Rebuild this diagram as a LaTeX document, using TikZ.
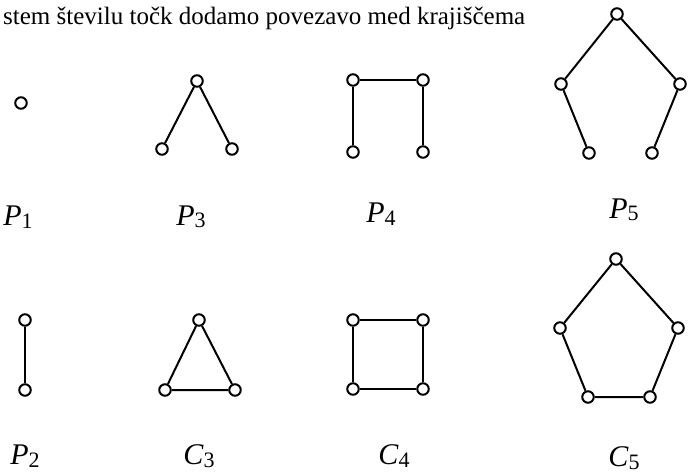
\documentclass[tikz,border=0pt]{standalone}
\usepackage{fontspec}
\setmainfont{Liberation Serif}
\newcommand\glabel[2]{\textit{#1}\raisebox{-2.5pt}{\fontsize{22}{24}\selectfont #2}}
\begin{document}
\begin{tikzpicture}[x=1pt,y=-1pt,
  vtx/.style={circle,draw,line width=2pt,minimum size=11.5pt,inner sep=0pt,fill=white},
  edge/.style={line width=2pt},
  lbl/.style={inner sep=0pt,font=\fontsize{30}{32}\selectfont}]
\useasboundingbox (0,0) rectangle (688,473);
\node[anchor=base west,inner sep=0pt,font=\fontsize{25}{30}\selectfont] (txt) at (3,25) {stem številu točk dodamo povezavo med krajiščema};
% P1
\node[vtx] (p1a) at (21,103) {};
\node[lbl] (lp1) at (18,217) {\glabel{P}{1}};
% P3
\node[vtx] (p3t) at (197,81) {};
\node[vtx] (p3l) at (162,149) {};
\node[vtx] (p3r) at (232,149) {};
\draw[edge] (p3l) -- (p3t) -- (p3r);
\node[lbl] (lp3) at (191,217) {\glabel{P}{3}};
% P4
\node[vtx] (p4a) at (353,80) {};
\node[vtx] (p4b) at (423,80) {};
\node[vtx] (p4c) at (353,152) {};
\node[vtx] (p4d) at (423,152) {};
\draw[edge] (p4c) -- (p4a) -- (p4b) -- (p4d);
\node[lbl] (lp4) at (381,214) {\glabel{P}{4}};
% P5
\node[vtx] (p5t) at (617,14) {};
\node[vtx] (p5l) at (561,84) {};
\node[vtx] (p5r) at (680,84) {};
\node[vtx] (p5bl) at (589,153) {};
\node[vtx] (p5br) at (652,153) {};
\draw[edge] (p5bl) -- (p5l) -- (p5t) -- (p5r) -- (p5br);
\node[lbl] (lp5) at (624,210) {\glabel{P}{5}};
% P2
\node[vtx] (p2a) at (25,320) {};
\node[vtx] (p2b) at (25,390) {};
\draw[edge] (p2a) -- (p2b);
\node[lbl] (lp2) at (25,456) {\glabel{P}{2}};
% C3
\node[vtx] (c3t) at (199,320) {};
\node[vtx] (c3l) at (165,390) {};
\node[vtx] (c3r) at (235,390) {};
\draw[edge] (c3t) -- (c3l) -- (c3r) -- (c3t);
\node[lbl] (lc3) at (199,456) {\glabel{C}{3}};
% C4
\node[vtx] (c4a) at (353,320) {};
\node[vtx] (c4b) at (423,320) {};
\node[vtx] (c4c) at (353,389) {};
\node[vtx] (c4d) at (423,389) {};
\draw[edge] (c4a) -- (c4b) -- (c4d) -- (c4c) -- (c4a);
\node[lbl] (lc4) at (394,456) {\glabel{C}{4}};
% C5
\node[vtx] (c5t) at (616,259) {};
\node[vtx] (c5l) at (560,328) {};
\node[vtx] (c5r) at (678,328) {};
\node[vtx] (c5bl) at (588,397) {};
\node[vtx] (c5br) at (650,397) {};
\draw[edge] (c5t) -- (c5r) -- (c5br) -- (c5bl) -- (c5l) -- (c5t);
\node[lbl] (lc5) at (624,458) {\glabel{C}{5}};
\end{tikzpicture}
\end{document}
